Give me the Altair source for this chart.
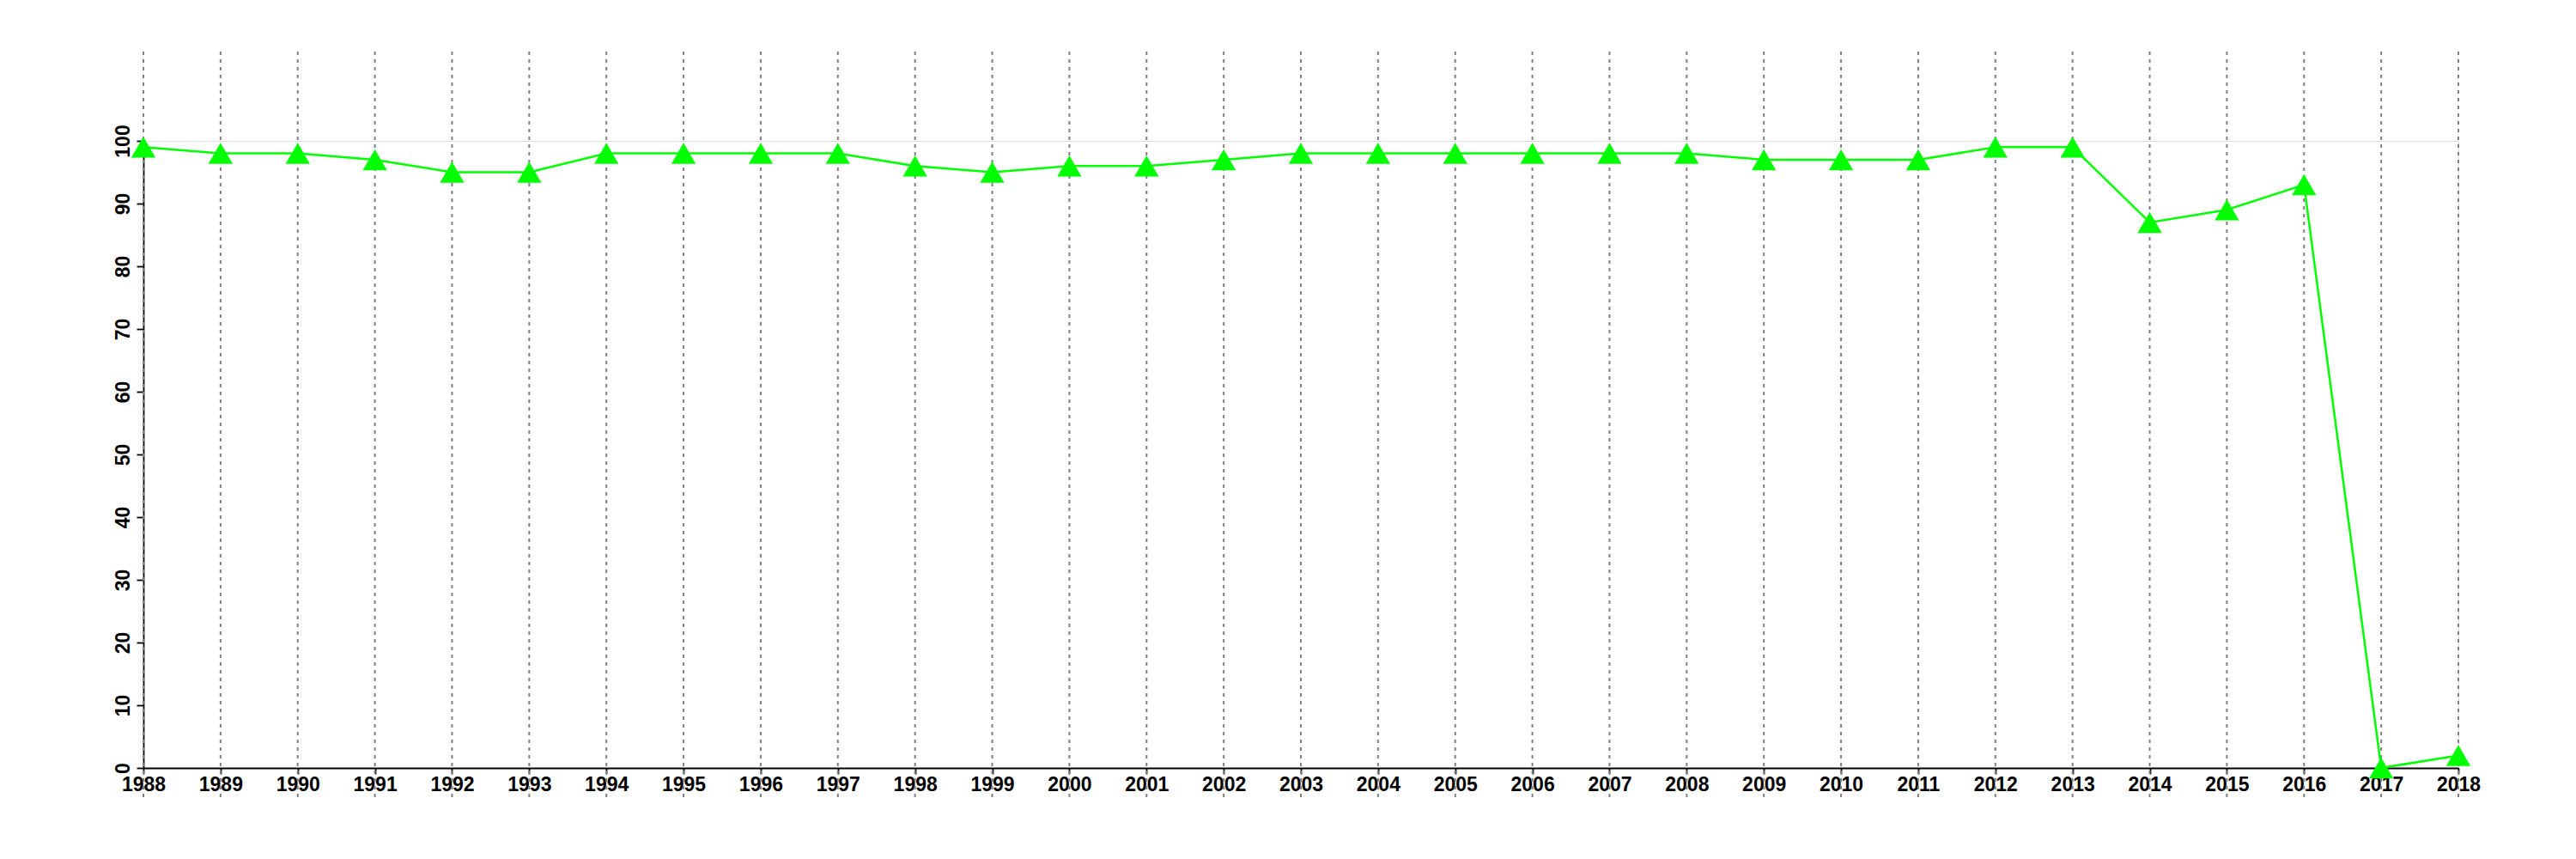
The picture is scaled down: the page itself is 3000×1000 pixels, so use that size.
import altair as alt
import pandas as pd

years = list(range(1988, 2019))
values = [99, 98, 98, 97, 95, 95, 98, 98, 98, 98, 96, 95, 96, 96, 97, 98, 98,
          98, 98, 98, 98, 97, 97, 97, 99, 99, 87, 89, 93, 0, 2]
y_ticks = [0, 10, 20, 30, 40, 50, 60, 70, 80, 90, 100]

df = pd.DataFrame({"year": years, "value": values})

W = 2696
H = 730
FONT = "Liberation Sans"

xs = alt.Scale(domain=[1988, 2018], nice=False, zero=False)
ys = alt.Scale(domain=[0, 100], nice=False, zero=False)

xaxis = alt.Axis(values=years, format="d", title=None, grid=False,
                 labelFont=FONT, labelFontSize=23, labelFontWeight="bold",
                 labelColor="black", domainColor="black", domainWidth=1.8,
                 tickColor="black", tickWidth=1.8, tickSize=7, labelPadding=1,
                 labelFlush=False, labelOverlap=False)
yaxis = alt.Axis(values=y_ticks, title=None, grid=False,
                 labelFont=FONT, labelFontSize=23, labelFontWeight="bold",
                 labelColor="black", domainColor="black", domainWidth=1.8,
                 tickColor="black", tickWidth=1.8, tickSize=8, labelAngle=270,
                 labelPadding=4, labelFlush=False, labelOverlap=False)

base = alt.Chart(df)

grid = base.mark_rule(color="#808080", strokeWidth=2, strokeDash=[4, 5]).encode(
    x=alt.X("year:Q", scale=xs, axis=xaxis),
    y=alt.value(-104),
    y2=alt.value(H + 34),
)

line = base.mark_line(color="#00ff00", strokeWidth=2.5).encode(
    x=alt.X("year:Q", scale=xs),
    y=alt.Y("value:Q", scale=ys, axis=yaxis),
)

pts = base.mark_point(shape="triangle-up", filled=True, color="#00ff00",
                      size=800, opacity=1, strokeWidth=0).encode(
    x=alt.X("year:Q", scale=xs),
    y=alt.Y("value:Q", scale=ys),
)

chart = alt.layer(grid, line, pts).properties(
    width=W, height=H,
    autosize=alt.AutoSizeParams(type="none"),
    padding={"left": 159, "top": 156, "right": 100, "bottom": 90},
).configure_view(stroke="transparent", fill="transparent").configure(background="#ffffff")

chart.save("out.html", embed_options={"renderer": "svg", "actions": False})
